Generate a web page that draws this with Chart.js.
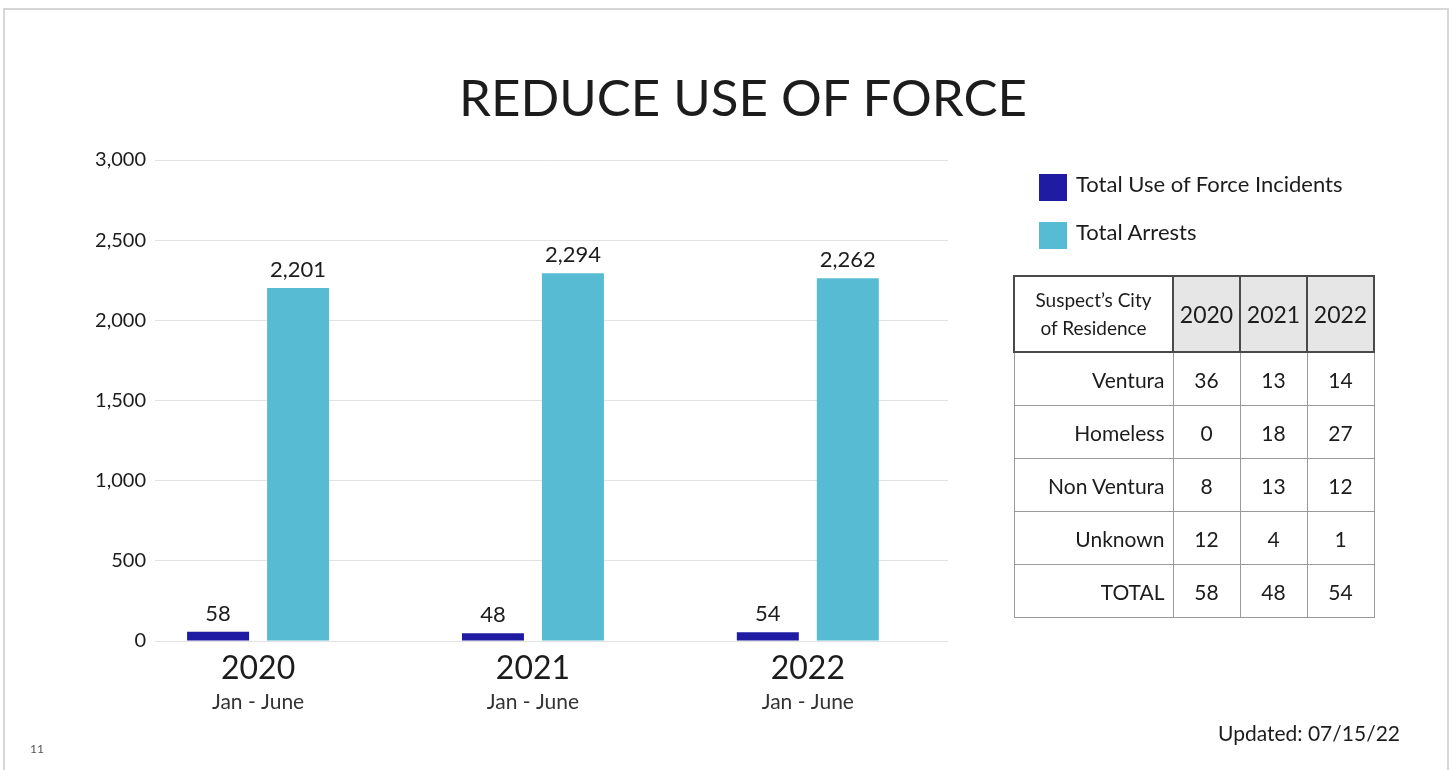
<!DOCTYPE html>
<html>
<head>
<meta charset="utf-8">
<title>Reduce Use of Force</title>
<script src="https://cdn.jsdelivr.net/npm/chart.js@4.4.1/dist/chart.umd.min.js"></script>
<style>
  html, body { margin: 0; padding: 0; background: #fff; }
  body {
    width: 1454px; height: 770px; position: relative; overflow: hidden;
    font-family: Lato, "Noto Sans", sans-serif; color: #1c1c1c;
  }
  #chart { position: absolute; left: 0; top: 0; }
  .frame {
    position: absolute; left: 3px; top: 8px; width: 1446px; height: 800px;
    border: 2px solid #d6d6d6; box-sizing: border-box; pointer-events: none;
  }
  #title {
    position: absolute; left: 0; top: 67px; width: 1486px;
    text-align: center; font-size: 51px; line-height: 60px; font-weight: 400; margin: 0;
  }
  #legend { position: absolute; left: 1039px; top: 174px; }
  .legend-item { display: flex; align-items: flex-start; height: 48px; font-size: 22px; }
  .legend-item .swatch { width: 28px; height: 27px; margin-right: 9px; flex: none; }
  .legend-item span.text { line-height: 20px; }
  #residence {
    position: absolute; left: 1013px; top: 275px;
    border-collapse: collapse; table-layout: fixed; width: 360px; font-size: 21px;
  }
  #residence td, #residence th { border: 1px solid #9a9a9a; padding: 0; text-align: center; }
  #residence th { border: 2px solid #4a4a4a; font-weight: 400; height: 74px; }
  #residence th.year { background: #e6e6e6; font-size: 23px; }
  #residence th.head { font-size: 19px; line-height: 28px; }
  #residence td { height: 52px; }
  #residence td.city { text-align: right; padding-right: 8px; }
  #updated {
    position: absolute; right: 54px; top: 720px; font-size: 21px; line-height: 26px;
  }
  #page { position: absolute; left: 30px; top: 741px; font-size: 12px; color: #555; }
</style>
</head>
<body>
<canvas id="chart" width="1454" height="770"></canvas>
<div class="frame"></div>
<h1 id="title">REDUCE USE OF FORCE</h1>
<div id="legend"></div>
<table id="residence"></table>
<div id="updated">Updated: 07/15/22</div>
<div id="page">11</div>

<script>
// Half-year totals (January through June)
const years = ['2020', '2021', '2022'];
const periods = ['Jan - June', 'Jan - June', 'Jan - June'];
const incidents = [58, 48, 54];
const arrests = [2201, 2294, 2262];
const yTicks = [0, 500, 1000, 1500, 2000, 2500, 3000];

// Use of force incidents by the suspect's city of residence
const cities = ['Ventura', 'Homeless', 'Non Ventura', 'Unknown'];
const ventura = [36, 13, 14];
const homeless = [0, 18, 27];
const nonVentura = [8, 13, 12];
const unknown = [12, 4, 1];

const FONT = 'Lato, "Noto Sans", sans-serif';
const INK = '#1c1c1c';
const fmt = v => Number(v).toLocaleString('en-US');
const toPoints = arr => arr.map((y, i) => ({ x: i, y }));

const datasets = [
  { label: 'Total Use of Force Incidents', data: toPoints(incidents), backgroundColor: '#1f1ba3' },
  { label: 'Total Arrests', data: toPoints(arrests), backgroundColor: '#58bbd4' }
];

// Value written above each bar
const valueLabels = {
  id: 'valueLabels',
  afterDatasetsDraw(chart) {
    const { ctx } = chart;
    ctx.save();
    ctx.font = '22px ' + FONT;
    ctx.fillStyle = INK;
    ctx.textAlign = 'center';
    ctx.textBaseline = 'bottom';
    chart.data.datasets.forEach((ds, di) => {
      chart.getDatasetMeta(di).data.forEach((bar, i) => {
        ctx.fillText(fmt(ds.data[i].y), bar.x, bar.y - 7);
      });
    });
    ctx.restore();
  }
};

const yearTicks = scale => { scale.ticks = years.map((_, i) => ({ value: i })); };
const xRange = { min: -0.375, max: 2.51, offset: false };

new Chart(document.getElementById('chart'), {
  type: 'bar',
  data: { datasets },
  options: {
    responsive: false,
    animation: false,
    devicePixelRatio: 1,
    layout: { padding: { left: 0, right: 506, top: 160, bottom: 53 } },
    datasets: { bar: { categoryPercentage: 0.582, barPercentage: 0.775 } },
    plugins: { legend: { display: false }, tooltip: { enabled: false } },
    scales: {
      x: {
        type: 'linear', axis: 'x', position: 'bottom', weight: 0, ...xRange,
        afterBuildTicks: yearTicks,
        afterFit: s => { s.height = 46; },
        grid: { display: false, drawTicks: false },
        border: { display: false },
        ticks: { padding: 8, color: INK, font: { family: FONT, size: 32 }, callback: v => years[v] }
      },
      x2: {
        type: 'linear', axis: 'x', position: 'bottom', weight: 1, ...xRange,
        afterBuildTicks: yearTicks,
        afterFit: s => { s.height = 30; },
        grid: { display: false, drawTicks: false },
        border: { display: false },
        ticks: { padding: 3, color: '#333', font: { family: FONT, size: 21 }, callback: v => periods[v] }
      },
      y: {
        min: 0, max: 3000,
        afterBuildTicks: s => { s.ticks = yTicks.map(v => ({ value: v })); },
        afterFit: s => { s.width = 155; },
        grid: { color: '#e2e2e2', lineWidth: 1, drawTicks: false },
        border: { display: false },
        ticks: { padding: 9, color: INK, font: { family: FONT, size: 20 }, callback: v => fmt(v) }
      }
    }
  },
  plugins: [valueLabels]
});

// Legend built from the datasets
const legend = document.getElementById('legend');
datasets.forEach(ds => {
  const item = document.createElement('div');
  item.className = 'legend-item';
  const sw = document.createElement('div');
  sw.className = 'swatch';
  sw.style.background = ds.backgroundColor;
  const txt = document.createElement('span');
  txt.className = 'text';
  txt.textContent = ds.label;
  item.append(sw, txt);
  legend.appendChild(item);
});

// Residence table
const table = document.getElementById('residence');
const colWidths = [159, 67, 67, 67];
const colgroup = document.createElement('colgroup');
colWidths.forEach(w => {
  const col = document.createElement('col');
  col.style.width = w + 'px';
  colgroup.appendChild(col);
});
table.appendChild(colgroup);

const head = document.createElement('tr');
const h0 = document.createElement('th');
h0.className = 'head';
h0.innerHTML = 'Suspect\u2019s City<br>of Residence';
head.appendChild(h0);
years.forEach(y => {
  const th = document.createElement('th');
  th.className = 'year';
  th.textContent = y;
  head.appendChild(th);
});
table.appendChild(head);

const rows = [
  [cities[0], ventura],
  [cities[1], homeless],
  [cities[2], nonVentura],
  [cities[3], unknown],
  ['TOTAL', incidents]
];
rows.forEach(([name, vals]) => {
  const tr = document.createElement('tr');
  const td = document.createElement('td');
  td.className = 'city';
  td.textContent = name;
  tr.appendChild(td);
  vals.forEach(v => {
    const c = document.createElement('td');
    c.textContent = v;
    tr.appendChild(c);
  });
  table.appendChild(tr);
});
</script>
</body>
</html>
